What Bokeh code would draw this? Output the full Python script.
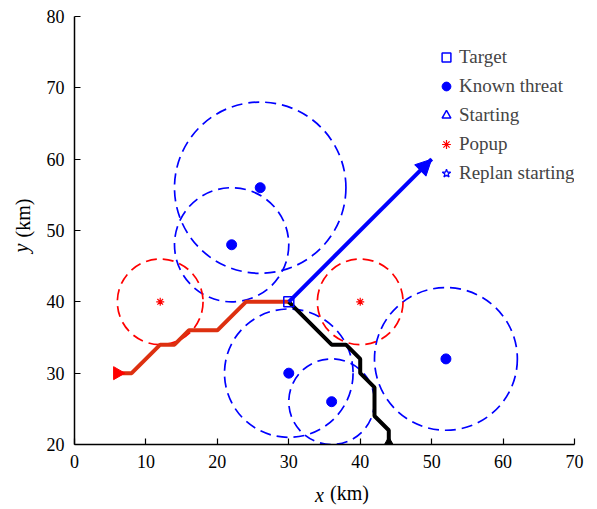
import math
from bokeh.plotting import figure
from bokeh.models import (Legend, LegendItem, Arrow, NormalHead, Range1d, LinearAxis, FixedTicker)
from bokeh.embed import file_html
from bokeh.resources import INLINE

# ---- data ----
threat_x = [26, 22, 30, 36, 52]
threat_y = [56, 48, 30, 26, 32]
threat_r = [12, 8, 9, 6, 10]

popup_x = [12, 40]
popup_y = [40, 40]
popup_r = [6, 6]

target_x = [30]
target_y = [40]

red_path_x = [6, 8, 12, 14, 16, 20, 24, 30]
red_path_y = [30, 30, 34, 34, 36, 36, 40, 40]

black_path_x = [30, 36, 38, 40, 40, 42, 42, 44, 44]
black_path_y = [40, 34, 34, 32, 30, 28, 24, 22, 20]

replan_x = [30, 50]
replan_y = [40, 60]

x_ticks = [0, 10, 20, 30, 40, 50, 60, 70]
y_ticks = [20, 30, 40, 50, 60, 70, 80]

FONT = "Liberation Serif"
BLUE = "#0000ff"
RED = "#ff0000"
PATH_RED = "#dd3010"
NB = "\u00a0"

p = figure(frame_width=500, frame_height=428, output_backend="svg", toolbar_location=None,
           x_range=Range1d(0, 70), y_range=Range1d(20, 80),
           min_border_left=74, min_border_right=23, min_border_top=16, min_border_bottom=65)
p.outline_line_color = None
p.xgrid.visible = False
p.ygrid.visible = False
p.background_fill_color = "white"
p.border_fill_color = "white"

for ax in (p.xaxis, p.yaxis):
    ax.major_tick_in = 6
    ax.major_tick_out = 0
    ax.minor_tick_line_color = None
    ax.axis_line_width = 1.5
    ax.major_tick_line_width = 1.2
    ax.major_label_text_font = FONT
    ax.major_label_text_font_size = "18px"
    ax.major_label_text_color = "black"
    ax.major_label_standoff = 10
p.xaxis.ticker = x_ticks
p.yaxis.ticker = y_ticks


def label_axis(text, italic, standoff):
    return LinearAxis(ticker=FixedTicker(ticks=[]), axis_line_color=None,
                      major_tick_line_color=None, minor_tick_line_color=None,
                      major_label_text_font_size="0px",
                      axis_label=text, axis_label_text_font=FONT, axis_label_text_font_size="20px",
                      axis_label_text_font_style="italic" if italic else "normal",
                      axis_label_text_color="black", axis_label_standoff=standoff)


# x axis label "x (km)": italic variable and upright unit, overlaid on one line
p.add_layout(label_axis(NB * 10 + "(km)", False, 11), "below")
p.add_layout(label_axis(NB * 7 + "x" + NB * 9, True, -23), "below")
# y axis label "y (km)"
p.add_layout(label_axis(NB * 5 + "(km)", False, 10), "left")
p.add_layout(label_axis(NB * 2 + "y" + NB * 9, True, -23), "left")

# threat circles
p.ellipse(x=threat_x, y=threat_y, width=[2 * r for r in threat_r], height=[2 * r for r in threat_r],
          fill_color=None, line_color=BLUE, line_width=1.7, line_dash="11 6")
# popup circles
p.ellipse(x=popup_x, y=popup_y, width=[2 * r for r in popup_r], height=[2 * r for r in popup_r],
          fill_color=None, line_color=RED, line_width=1.7, line_dash="11 6")

# paths
p.line(red_path_x, red_path_y, line_color=PATH_RED, line_width=4)
p.line(black_path_x, black_path_y, line_color="black", line_width=4)
p.line(replan_x, replan_y, line_color=BLUE, line_width=4)
p.add_layout(Arrow(end=NormalHead(size=16, fill_color=BLUE, line_color=BLUE),
                   x_start=replan_x[-2], y_start=replan_y[-2], x_end=replan_x[-1], y_end=replan_y[-1],
                   line_color=BLUE, line_width=4, line_alpha=0))

# legend-only markers (drawn with zero size on the plot)
r_start = p.scatter([black_path_x[-1]], [black_path_y[-1]], marker="triangle", size=0,
                    fill_color=None, line_color=BLUE, line_width=1.5)
r_replan = p.scatter([replan_x[0]], [replan_y[0]], marker="star", size=0,
                     fill_color=None, line_color=BLUE, line_width=1.3)

# start markers
p.scatter([red_path_x[0]], [red_path_y[0]], marker="triangle", size=13, angle=-math.pi / 2,
          fill_color=RED, line_color=RED)
p.scatter([black_path_x[-1]], [black_path_y[-1]], marker="triangle", size=13,
          fill_color="black", line_color="black")

# markers with legend
r_target = p.scatter(target_x, target_y, marker="square", size=10, fill_color=None,
                     line_color=BLUE, line_width=1.5)
r_threat = p.scatter(threat_x, threat_y, marker="circle", size=10, fill_color=BLUE, line_color=BLUE)
r_popup = p.scatter(popup_x, popup_y, marker="asterisk", size=8, line_color=RED, line_width=1.2)

legend = Legend(items=[
    LegendItem(label="Target", renderers=[r_target]),
    LegendItem(label="Known threat", renderers=[r_threat]),
    LegendItem(label="Starting", renderers=[r_start]),
    LegendItem(label="Popup", renderers=[r_popup]),
    LegendItem(label="Replan starting", renderers=[r_replan]),
], location=(361, 260))
legend.border_line_color = None
legend.background_fill_alpha = 0
legend.label_text_font = FONT
legend.label_text_font_size = "19px"
legend.glyph_width = 22
legend.glyph_height = 22
legend.label_height = 22
legend.spacing = 7
legend.padding = 0
legend.margin = 0
legend.label_standoff = 2
p.add_layout(legend, "center")

open("out.html", "w").write(file_html(p, INLINE))
